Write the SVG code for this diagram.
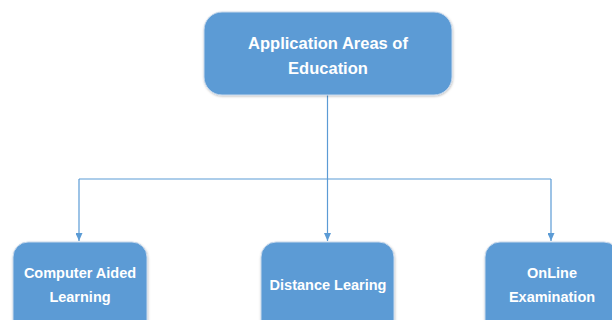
<svg xmlns="http://www.w3.org/2000/svg" width="612" height="320" viewBox="0 0 612 320">
<defs>
<marker id="arr" markerWidth="8" markerHeight="7" refX="8" refY="3.5" orient="auto" markerUnits="userSpaceOnUse">
<path d="M0,0 L8,3.5 L0,7 Z" fill="#5b9bd5"/>
</marker>
<filter id="sh" x="-10%" y="-10%" width="120%" height="130%">
<feDropShadow dx="0.5" dy="1" stdDeviation="1" flood-color="#000" flood-opacity="0.25"/>
</filter>
</defs>
<style>
.box{fill:#5b9bd5;stroke:#c9d9ec;stroke-width:1;filter:url(#sh)}
.t{font-family:"Liberation Sans",Arial,sans-serif;font-weight:bold;fill:#ffffff;text-anchor:middle}
.c{fill:none;stroke:#5b9bd5;stroke-width:1.2}
</style>
<rect width="612" height="320" fill="#ffffff"/>
<g id="connectors">
<path class="c" d="M327.5,95 V179"/>
<path class="c" d="M79,179 H551"/>
<path class="c" d="M79,179 V241" marker-end="url(#arr)"/>
<path class="c" d="M327.5,179 V241" marker-end="url(#arr)"/>
<path class="c" d="M551,179 V241" marker-end="url(#arr)"/>
</g>
<g id="root">
<rect class="box" x="204" y="12" width="248" height="83" rx="18"/>
<text class="t" x="328" y="49" font-size="16.5">Application Areas of</text>
<text class="t" x="328" y="74" font-size="16.5">Education</text>
</g>
<g id="cal">
<rect class="box" x="13" y="242" width="134" height="100" rx="15"/>
<text class="t" x="80" y="278" font-size="14.5">Computer Aided</text>
<text class="t" x="80" y="302" font-size="14.5">Learning</text>
</g>
<g id="dl">
<rect class="box" x="261" y="242" width="133" height="100" rx="15"/>
<text class="t" x="328" y="290" font-size="14.5">Distance Learing</text>
</g>
<g id="oe">
<rect class="box" x="485" y="242" width="134" height="100" rx="15"/>
<text class="t" x="552" y="278" font-size="14.5">OnLine</text>
<text class="t" x="552" y="302" font-size="14.5">Examination</text>
</g>
</svg>
